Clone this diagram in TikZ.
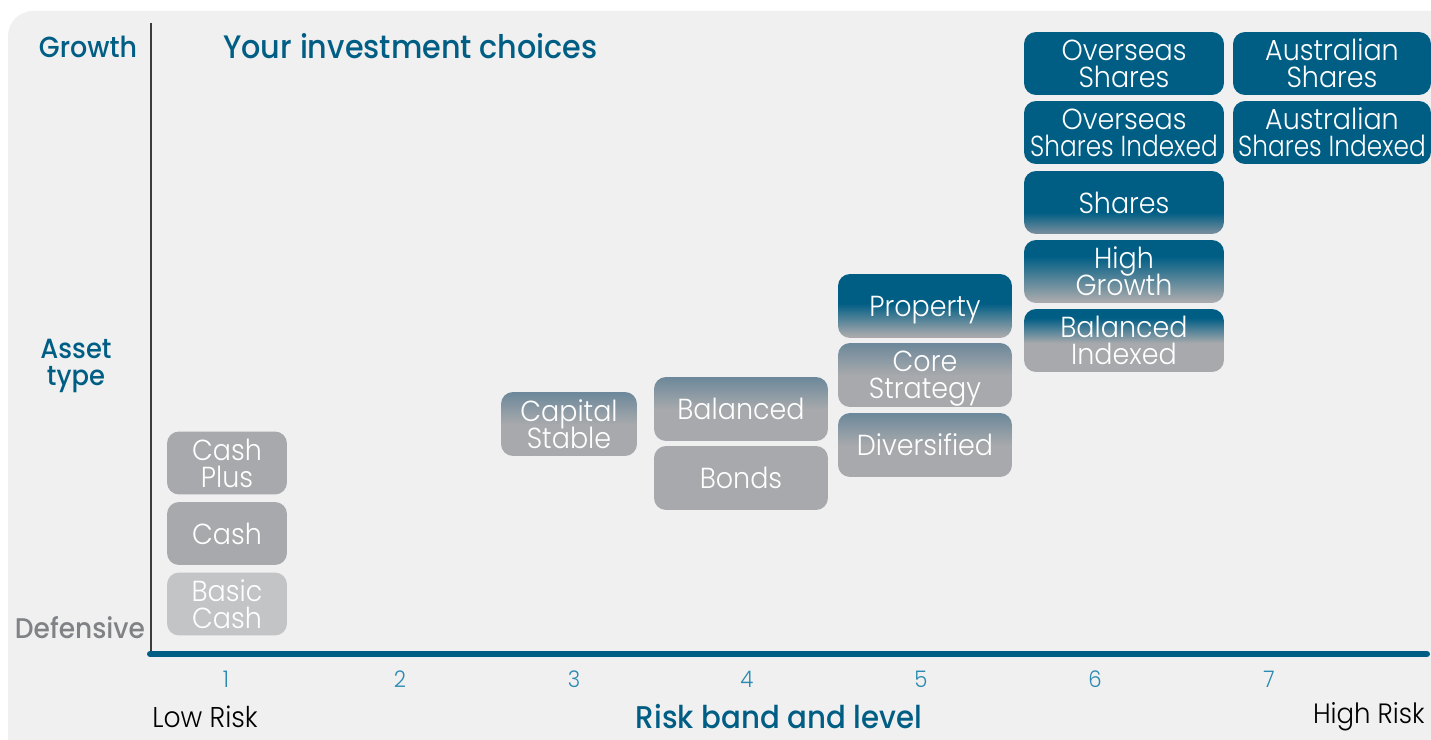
\documentclass[tikz,border=0pt]{standalone}
\usepackage{fontspec}
\setmainfont{Poppins}[UprightFont=* Light, BoldFont=* Medium, FakeStretch=0.93]
\newcommand{\tightlines}{\setlength{\lineskiplimit}{-20pt}\setlength{\lineskip}{0pt}}
\newcommand{\nodepth}[1]{\raisebox{0pt}[\height][0pt]{#1}}
\definecolor{teal}{RGB}{0,94,133}
\definecolor{boxgray}{RGB}{167,169,172}
\definecolor{lightgray}{RGB}{195,196,198}
\definecolor{bluegray}{RGB}{108,136,154}
\definecolor{bg}{RGB}{240,240,240}
\definecolor{numblue}{RGB}{43,138,178}
\definecolor{defgray}{RGB}{128,130,133}
\definecolor{axisgray}{RGB}{60,60,60}
\definecolor{sharesbot}{RGB}{125,143,157}
\pgfdeclareverticalshading{shShares}{100bp}{color(0bp)=(sharesbot); color(25bp)=(sharesbot); color(42bp)=(teal); color(100bp)=(teal)}
\pgfdeclareverticalshading{shHigh}{100bp}{color(0bp)=(boxgray); color(27bp)=(boxgray); color(62bp)=(teal); color(100bp)=(teal)}
\pgfdeclareverticalshading{shBalIdx}{100bp}{color(0bp)=(boxgray); color(48bp)=(boxgray); color(68bp)=(teal); color(100bp)=(teal)}
\pgfdeclareverticalshading{shProp}{100bp}{color(0bp)=(boxgray); color(27bp)=(boxgray); color(52bp)=(teal); color(100bp)=(teal)}
\pgfdeclareverticalshading{shBlue}{100bp}{color(0bp)=(boxgray); color(50bp)=(boxgray); color(75bp)=(bluegray); color(100bp)=(bluegray)}
\tikzset{
  box/.style={rounded corners=0.24cm, inner sep=0pt, align=center, text=white,
    font=\fontsize{16.5}{15.3}\selectfont\tightlines, minimum height=1.26cm},
  plain/.style={box, fill=boxgray},
  pale/.style={box, fill=lightgray},
  solid/.style={box, fill=teal},
  axislabel/.style={font=\fontsize{16.5}{16}\bfseries\selectfont, text=teal, align=center, inner sep=0pt},
  num/.style={font=\fontsize{13}{14}\selectfont, text=numblue, inner sep=0pt},
  risk/.style={font=\fontsize{16.3}{16}\selectfont, text=black, inner sep=0pt}
}
\begin{document}
\begin{tikzpicture}[x=0.02cm,y=-0.02cm]
\useasboundingbox (0,0) rectangle (1431,740);
\fill[bg, rounded corners=0.5cm] (8,11) rectangle (1460,770);
% axes
\coordinate (ytop) at (151,23);
\coordinate (ybot) at (151,652);
\coordinate (xl) at (150,654);
\coordinate (xr) at (1427,654);
\draw[axisgray, line width=0.7pt] (ytop) -- (ybot);
\draw[teal, line width=3.4pt, line cap=round] (xl) -- (xr);
% titles
\node[axislabel, anchor=west, font=\fontsize{18.5}{18}\bfseries\selectfont] (title) at (223,46) {Your investment choices};
\node[axislabel] (growth) at (88,47) {Growth};
\node[axislabel, font=\fontsize{15.8}{15.3}\bfseries\selectfont\tightlines] (asset) at (76,366) {Asset\\type};
\node[axislabel, text=defgray, font=\fontsize{16.2}{16}\bfseries\selectfont] (defensive) at (80,628) {Defensive};
% numbers
\foreach \i/\x in {1/226,2/400,3/574,4/747,5/921,6/1095,7/1269}
  \node[num] (n\i) at (\x,679) {\i};
\node[risk, anchor=west] (low) at (152,717) {Low Risk};
\node[risk, anchor=east, font=\fontsize{15.9}{16}\selectfont] (high) at (1425,717) {High Risk};
\node[axislabel, font=\fontsize{17.9}{18}\bfseries\selectfont] (band) at (779,717) {Risk band and level};
% column 1
\node[plain, minimum width=2.4cm] (cashplus) at (227,463) {Cash\\Plus};
\node[plain, minimum width=2.4cm] (cash) at (227,533.5) {Cash};
\node[pale, minimum width=2.4cm] (basic) at (227,604) {Basic\\Cash};
% column 3
\node[box, shading=shBlue, minimum width=2.72cm, minimum height=1.28cm] (capital) at (569,424) {Capital\\Stable};
% column 4
\node[box, shading=shBlue, minimum width=3.48cm, minimum height=1.28cm] (balanced) at (741,409) {Balanced};
\node[plain, minimum width=3.48cm, minimum height=1.28cm] (bonds) at (741,478) {Bonds};
% column 5
\node[box, shading=shProp, minimum width=3.48cm, minimum height=1.28cm] (property) at (925,306) {\nodepth{Property}};
\node[box, shading=shBlue, minimum width=3.48cm, minimum height=1.28cm] (core) at (925,375) {Core\\\nodepth{Strategy}};
\node[box, shading=shBlue, minimum width=3.48cm, minimum height=1.28cm] (diversified) at (925,445) {Diversified};
% column 6
\node[solid, minimum width=4cm] (overseas) at (1124,63.5) {Overseas\\Shares};
\node[solid, minimum width=4cm] (overseasidx) at (1124,132.5) {Overseas\\\scalebox{0.92}[1]{Shares Indexed}};
\node[box, shading=shShares, minimum width=4cm] (shares) at (1124,202.5) {Shares};
\node[box, shading=shHigh, minimum width=4cm] (highgrowth) at (1124,271.5) {High\\Growth};
\node[box, shading=shBalIdx, minimum width=4cm] (balidx) at (1124,340.5) {Balanced\\Indexed};
% column 7
\node[solid, minimum width=3.96cm] (aus) at (1332,63.5) {Australian\\Shares};
\node[solid, minimum width=3.96cm] (ausidx) at (1332,132.5) {Australian\\\scalebox{0.92}[1]{Shares Indexed}};
\end{tikzpicture}
\end{document}
